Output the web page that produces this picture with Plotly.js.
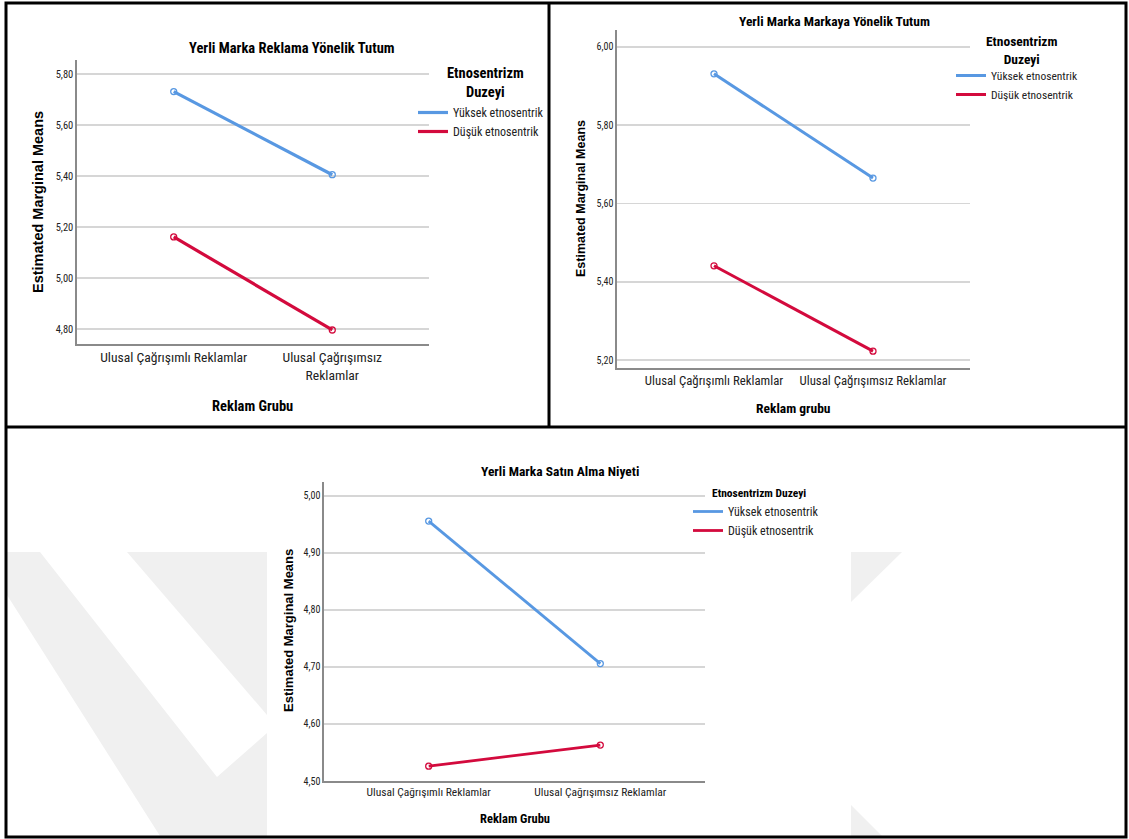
<!DOCTYPE html>
<html>
<head>
<meta charset="utf-8">
<script src="https://cdn.plot.ly/plotly-3.0.1.min.js"></script>
<style>html,body{margin:0;padding:0;background:#fff;}#chart{width:1129px;height:839px;}</style>
</head>
<body>
<div id="chart"></div>
<script>
// ---------- data ----------
const categories = ['Ulusal Çağrışımlı Reklamlar', 'Ulusal Çağrışımsız Reklamlar'];
const p1TickText = ['Ulusal Çağrışımlı Reklamlar', 'Ulusal Çağrışımsız<br>Reklamlar'];
const seriesNames = ['Yüksek etnosentrik', 'Düşük etnosentrik'];

const p1Title = 'Yerli Marka Reklama Yönelik Tutum';
const p1Yuksek = [5.731, 5.405];
const p1Dusuk = [5.161, 4.796];
const p1Ticks = [4.8, 5.0, 5.2, 5.4, 5.6, 5.8];
const p1XTitle = 'Reklam Grubu';

const p2Title = 'Yerli Marka Markaya Yönelik Tutum';
const p2Yuksek = [5.931, 5.665];
const p2Dusuk = [5.441, 5.223];
const p2Ticks = [5.2, 5.4, 5.6, 5.8, 6.0];
const p2XTitle = 'Reklam grubu';

const p3Title = 'Yerli Marka Satın Alma Niyeti';
const p3Yuksek = [4.956, 4.706];
const p3Dusuk = [4.526, 4.563];
const p3Ticks = [4.5, 4.6, 4.7, 4.8, 4.9, 5.0];
const p3XTitle = 'Reklam Grubu';

const yTitle = 'Estimated Marginal Means';
const legendTitleLines = ['Etnosentrizm', 'Duzeyi'];

// ---------- styling ----------
const W = 1129, H = 839;
const X = px => px / W;
const Y = py => 1 - py / H;
const NARROW = '"Roboto Condensed", "Liberation Sans Narrow", "DejaVu Sans Condensed", sans-serif';
const ARIAL = '"Liberation Sans", Arial, sans-serif';
const BLUE = '#5898e2';
const RED = '#d30a3d';
const GRID = '#d6d6d6';
const AXIS = '#8a8a8a';
const TXT = '#222';

function mkSeries(vals, name, color, xa, ya, leg, lw) {
  return [
    {
      x: categories, y: vals, name: name, type: 'scatter', mode: 'lines',
      xaxis: xa, yaxis: ya, legend: leg, legendgroup: leg + name,
      line: {color: color, width: lw}, hoverinfo: 'skip'
    },
    {
      x: categories, y: vals, name: name, type: 'scatter', mode: 'markers',
      xaxis: xa, yaxis: ya, legend: leg, legendgroup: leg + name, showlegend: false,
      marker: {symbol: 'circle-open', size: 6, color: color, line: {width: 1.3, color: color}},
      hoverinfo: 'skip'
    }
  ];
}

const traces = [].concat(
  mkSeries(p1Yuksek, seriesNames[0], BLUE, 'x', 'y', 'legend', 3.2),
  mkSeries(p1Dusuk, seriesNames[1], RED, 'x', 'y', 'legend', 3.2),
  mkSeries(p2Yuksek, seriesNames[0], BLUE, 'x2', 'y2', 'legend2', 3),
  mkSeries(p2Dusuk, seriesNames[1], RED, 'x2', 'y2', 'legend2', 3),
  mkSeries(p3Yuksek, seriesNames[0], BLUE, 'x3', 'y3', 'legend3', 2.8),
  mkSeries(p3Dusuk, seriesNames[1], RED, 'x3', 'y3', 'legend3', 2.8)
);

function xAxis(x0, x1, anchor, size, ticktext) {
  const a = {
    domain: [X(x0), X(x1)], anchor: anchor, type: 'category',
    range: [-0.61, 1.61], showgrid: false, zeroline: false,
    showline: true, linecolor: AXIS, linewidth: 1.6, ticks: '', tickangle: 0,
    tickfont: {family: NARROW, size: size, color: TXT},
    fixedrange: true
  };
  if (ticktext) { a.tickmode = 'array'; a.tickvals = categories; a.ticktext = ticktext; }
  return a;
}
function yAxis(y0, y1, anchor, range, ticks, size) {
  return {
    domain: [Y(y1), Y(y0)], anchor: anchor, range: range,
    tickmode: 'array', tickvals: ticks, tickformat: '.2f',
    showgrid: true, gridcolor: GRID, gridwidth: 1.5, zeroline: false,
    showline: true, linecolor: AXIS, linewidth: 1.6, ticks: '',
    tickfont: {family: NARROW, size: size, color: TXT},
    fixedrange: true
  };
}

function ann(text, xpx, ypx, size, family, angle) {
  return {
    text: text, xref: 'paper', yref: 'paper', x: X(xpx), y: Y(ypx),
    xanchor: 'center', yanchor: 'middle', showarrow: false,
    textangle: angle || 0,
    font: {family: family, size: size, color: '#000'}
  };
}

function legendCfg(xpx, ypx, size) {
  return {
    x: X(xpx), y: Y(ypx), xanchor: 'left', yanchor: 'top',
    bgcolor: 'rgba(0,0,0,0)', borderwidth: 0,
    font: {family: NARROW, size: size, color: TXT},
    tracegroupgap: 0, itemclick: false, itemdoubleclick: false
  };
}

function poly(pts) {
  return 'M' + pts.map(p => X(p[0]) + ',' + Y(p[1])).join('L') + 'Z';
}
const wm = '#f0f0f0';
const shapes = [
  {type: 'path', xref: 'paper', yref: 'paper', layer: 'below', fillcolor: wm, line: {width: 0},
   path: poly([[7,552],[40,552],[217,777],[267,733],[267,836],[160,836],[7,595]])},
  {type: 'path', xref: 'paper', yref: 'paper', layer: 'below', fillcolor: wm, line: {width: 0},
   path: poly([[127,552],[267,552],[267,715]])},
  {type: 'path', xref: 'paper', yref: 'paper', layer: 'below', fillcolor: wm, line: {width: 0},
   path: poly([[851,552],[902,552],[851,602]])},
  {type: 'path', xref: 'paper', yref: 'paper', layer: 'below', fillcolor: wm, line: {width: 0},
   path: poly([[851,805],[851,836],[882,836]])},
  // panel borders
  {type: 'rect', xref: 'paper', yref: 'paper', layer: 'above', x0: X(6), x1: X(1126), y0: Y(837), y1: Y(3),
   line: {color: '#000', width: 3}, fillcolor: 'rgba(0,0,0,0)'},
  {type: 'line', xref: 'paper', yref: 'paper', layer: 'above', x0: X(549), x1: X(549), y0: Y(3), y1: Y(427),
   line: {color: '#000', width: 3}},
  {type: 'line', xref: 'paper', yref: 'paper', layer: 'above', x0: X(6), x1: X(1126), y0: Y(427), y1: Y(427),
   line: {color: '#000', width: 3}}
];

const annotations = [
  ann('<b>' + p1Title + '</b>', 292, 49, 14.5, NARROW),
  ann('<b>' + yTitle + '</b>', 38, 202, 14.5, ARIAL, -90),
  ann('<b>' + p1XTitle + '</b>', 253, 407, 14.5, NARROW),
  ann('<b>' + legendTitleLines.join('<br>') + '</b>', 485, 83, 14.5, NARROW),

  ann('<b>' + p2Title + '</b>', 834, 21, 13.5, NARROW),
  ann('<b>' + yTitle + '</b>', 581, 199, 12.5, ARIAL, -90),
  ann('<b>' + p2XTitle + '</b>', 793, 408, 13.5, NARROW),
  ann('<b>' + legendTitleLines.join('<br>') + '</b>', 1022, 50, 13.5, NARROW),

  ann('<b>' + p3Title + '</b>', 560, 471, 13.5, NARROW),
  ann('<b>' + yTitle + '</b>', 288, 631, 13, ARIAL, -90),
  ann('<b>' + p3XTitle + '</b>', 515, 818, 12.5, NARROW),
  {text: '<b>' + legendTitleLines.join(' ') + '</b>', xref: 'paper', yref: 'paper', x: X(710), y: Y(493),
   xanchor: 'left', yanchor: 'middle', showarrow: false, font: {family: NARROW, size: 11.5, color: '#000'}}
];

const layout = {
  width: W, height: H,
  margin: {l: 0, r: 0, t: 0, b: 0, pad: 0},
  paper_bgcolor: '#fff', plot_bgcolor: 'rgba(0,0,0,0)',
  separators: ',.',
  showlegend: true,
  xaxis: xAxis(77, 429, 'y', 13.6, p1TickText),
  yaxis: yAxis(60, 344, 'x', [4.741, 5.855], p1Ticks, 10.5),
  xaxis2: xAxis(617, 970, 'y2', 12.8),
  yaxis2: yAxis(30, 368, 'x2', [5.18, 6.043], p2Ticks, 10),
  xaxis3: xAxis(324, 705, 'y3', 11.5),
  yaxis3: yAxis(482, 781, 'x3', [4.5, 5.0245], p3Ticks, 10),
  legend: legendCfg(413, 98, 12),
  legend2: legendCfg(951, 61, 11.5),
  legend3: legendCfg(688, 497, 12),
  shapes: shapes,
  annotations: annotations
};

Plotly.newPlot('chart', traces, layout, {staticPlot: true, displayModeBar: false});
</script>
</body>
</html>
